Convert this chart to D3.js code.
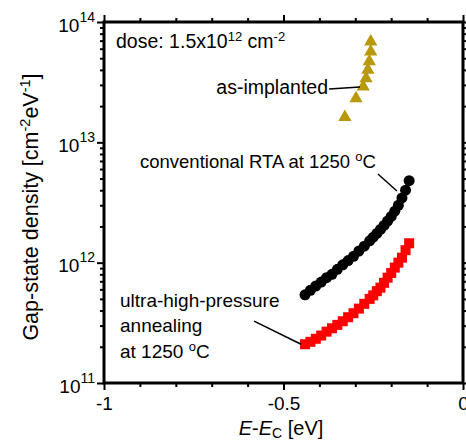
<!DOCTYPE html>
<html>
<head>
<meta charset="utf-8">
<script src="https://cdn.jsdelivr.net/npm/d3@7"></script>
<style>
  body { margin: 0; background: #fff; }
  svg { font-family: "Liberation Sans", Arial, sans-serif; }
</style>
</head>
<body>
<svg id="chart"></svg>
<script>
// as-implanted (triangles)
const energyImplant = [-0.329, -0.298, -0.278, -0.270, -0.265, -0.261, -0.257, -0.257];
const dosImplant = [1.62e13, 2.32e13, 2.9e13, 3.4e13, 4.0e13, 4.7e13, 5.66e13, 6.85e13];

// annealed samples share the energy grid
const energyAnneal = [-0.44, -0.425, -0.41, -0.395, -0.38, -0.365, -0.35, -0.335, -0.32, -0.305,
  -0.29, -0.275, -0.26, -0.25, -0.24, -0.23, -0.22, -0.21, -0.20, -0.19, -0.18, -0.17, -0.16, -0.15];
const dosRTA = [5.4e11, 5.9e11, 6.4e11, 6.9e11, 7.5e11, 8.0e11, 8.8e11, 9.6e11, 1.04e12, 1.13e12,
  1.25e12, 1.37e12, 1.52e12, 1.63e12, 1.75e12, 1.89e12, 2.04e12, 2.22e12, 2.42e12, 2.68e12,
  3.0e12, 3.45e12, 4.0e12, 4.8e12];
const dosUHP = [2.1e11, 2.2e11, 2.33e11, 2.48e11, 2.67e11, 2.85e11, 3.04e11, 3.26e11, 3.52e11, 3.8e11,
  4.15e11, 4.55e11, 5.0e11, 5.35e11, 5.8e11, 6.2e11, 6.8e11, 7.5e11, 8.2e11, 9.1e11,
  1.0e12, 1.1e12, 1.27e12, 1.45e12];

const xMajor = [-1, -0.5, 0];
const xLabels = ["-1", "-0.5", "0"];
const yDecades = [1e11, 1e12, 1e13, 1e14];
const yExponents = ["11", "12", "13", "14"];

const margin = { left: 104, right: 3, top: 22, bottom: 63 };
const W = 466, H = 446;
const width = W - margin.left - margin.right;
const height = H - margin.top - margin.bottom;

const svg = d3.select("#chart").attr("width", W).attr("height", H);
const g = svg.append("g").attr("transform", `translate(${margin.left},${margin.top})`);

const x = d3.scaleLinear().domain([-1, 0]).range([0, width]);
const y = d3.scaleLog().domain([1e11, 1e14]).range([height, 0]);

const xMinor = d3.range(-10, 1).map((i) => i / 10).filter((v) => !xMajor.includes(v));
const yMinor = [];
[1e11, 1e12, 1e13].forEach((d) => { for (let m = 2; m <= 9; m++) yMinor.push(d * m); });

function styleAxis(sel) {
  sel.select(".domain").remove();
  sel.selectAll(".tick line").attr("stroke", "#000").attr("stroke-width", 2);
}

// minor ticks
g.append("g").attr("transform", `translate(0,${height})`)
  .call(d3.axisBottom(x).tickValues(xMinor).tickSize(4).tickFormat("")).call(styleAxis);
g.append("g").call(d3.axisTop(x).tickValues(xMinor).tickSize(4).tickFormat("")).call(styleAxis);
g.append("g").call(d3.axisLeft(y).tickValues(yMinor).tickSize(4).tickFormat("")).call(styleAxis);
g.append("g").attr("transform", `translate(${width},0)`)
  .call(d3.axisRight(y).tickValues(yMinor).tickSize(4).tickFormat("")).call(styleAxis);

// major ticks
const xAxis = g.append("g").attr("transform", `translate(0,${height})`)
  .call(d3.axisBottom(x).tickValues(xMajor).tickSize(7).tickPadding(7)
    .tickFormat((d, i) => xLabels[i]))
  .call(styleAxis);
xAxis.selectAll("text").attr("font-size", 19).attr("fill", "#000")
  .attr("font-family", "Liberation Sans, Arial, sans-serif");
g.append("g").call(d3.axisTop(x).tickValues(xMajor).tickSize(7).tickFormat("")).call(styleAxis);
g.append("g").attr("transform", `translate(${width},0)`)
  .call(d3.axisRight(y).tickValues(yDecades).tickSize(7).tickFormat("")).call(styleAxis);

const yAxis = g.append("g")
  .call(d3.axisLeft(y).tickValues(yDecades).tickSize(7).tickFormat(""))
  .call(styleAxis);
yAxis.selectAll(".tick").each(function (d, i) {
  const t = d3.select(this).append("text")
    .attr("x", -9).attr("y", 9)
    .attr("text-anchor", "end")
    .attr("font-size", 19)
    .attr("fill", "#000");
  t.append("tspan").text("10");
  t.append("tspan").attr("dy", -10).attr("font-size", 14).text(yExponents[i]);
});

// frame
g.append("rect").attr("width", width).attr("height", height)
  .attr("fill", "none").attr("stroke", "#000").attr("stroke-width", 3);

// data
g.append("g").selectAll("circle")
  .data(energyAnneal.map((e, i) => [e, dosRTA[i]]))
  .join("circle")
  .attr("cx", (d) => x(d[0])).attr("cy", (d) => y(d[1]))
  .attr("r", 5.5).attr("fill", "#000");

g.append("g").selectAll("rect")
  .data(energyAnneal.map((e, i) => [e, dosUHP[i]]))
  .join("rect")
  .attr("x", (d) => x(d[0]) - 5).attr("y", (d) => y(d[1]) - 5)
  .attr("width", 10).attr("height", 10).attr("fill", "#ff0000");

const tri = d3.symbol().type(d3.symbolTriangle).size(76);
g.append("g").selectAll("path")
  .data(energyImplant.map((e, i) => [e, dosImplant[i]]))
  .join("path")
  .attr("transform", (d) => `translate(${x(d[0])},${y(d[1])})`)
  .attr("d", tri).attr("fill", "#b8980c");

// leader lines (data-space ends)
const leaders = [
  [[-0.373, 2.77e13], [-0.287, 2.88e13]],
  [[-0.237, 5.45e12], [-0.184, 3.94e12]],
  [[-0.582, 3.27e11], [-0.451, 2.1e11]],
];
g.append("g").selectAll("line").data(leaders).join("line")
  .attr("x1", (d) => x(d[0][0])).attr("y1", (d) => y(d[0][1]))
  .attr("x2", (d) => x(d[1][0])).attr("y2", (d) => y(d[1][1]))
  .attr("stroke", "#000").attr("stroke-width", 1.5);

// annotations
function label(px, py, parts, anchor, size) {
  const fs = size || 19;
  const t = svg.append("text").attr("x", px).attr("y", py)
    .attr("font-size", fs).attr("fill", "#000").attr("text-anchor", anchor || "start");
  parts.forEach((p) => {
    const s = t.append("tspan").text(p.t);
    if (p.sup) s.attr("font-size", Math.round(fs * 0.68)).attr("baseline-shift", "super");
    if (p.sub) s.attr("font-size", Math.round(fs * 0.68)).attr("baseline-shift", "-20%");
    if (p.it) s.attr("font-style", "italic");
  });
  return t;
}

label(116, 48, [{ t: "dose: 1.5x10" }, { t: "12", sup: 1 }, { t: " cm" }, { t: "-2", sup: 1 }], "start", 19.5);
label(328, 94, [{ t: "as-implanted" }], "end", 19.5);
label(140, 168, [{ t: "conventional RTA at 1250 " }, { t: "o", sup: 1 }, { t: "C" }], "start", 18.5);
label(120, 307, [{ t: "ultra-high-pressure" }], "start", 19);
label(120, 332, [{ t: "annealing" }], "start", 19);
label(120, 358, [{ t: "at 1250 " }, { t: "o", sup: 1 }, { t: "C" }], "start", 19);

// axis titles
label(281, 435, [{ t: "E", it: 1 }, { t: "-" }, { t: "E", it: 1 }, { t: "C", sub: 1 }, { t: " [eV]" }], "middle", 20);

svg.append("g").attr("transform", "translate(38,207) rotate(-90)")
  .append("text").attr("text-anchor", "middle").attr("font-size", 21.5).attr("fill", "#000")
  .call((t) => {
    t.append("tspan").text("Gap-state density [cm");
    t.append("tspan").attr("font-size", 14.5).attr("baseline-shift", "super").text("-2");
    t.append("tspan").text("eV");
    t.append("tspan").attr("font-size", 14.5).attr("baseline-shift", "super").text("-1");
    t.append("tspan").text("]");
  });
</script>
</body>
</html>
